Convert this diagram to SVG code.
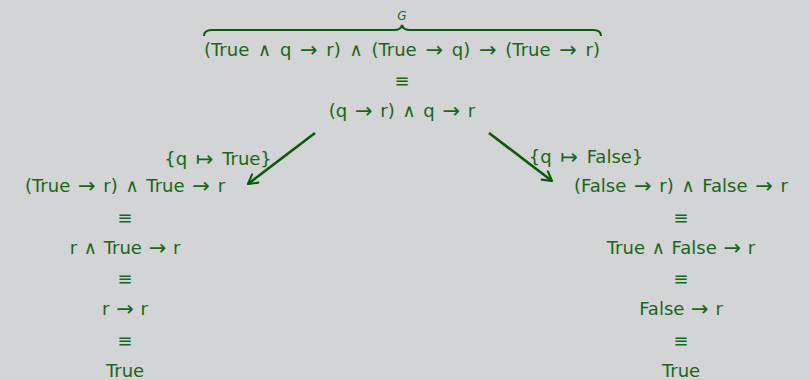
<svg xmlns="http://www.w3.org/2000/svg" width="810" height="380" viewBox="0 0 810 380">
<style>
text{font-family:"DejaVu Sans",sans-serif;font-size:18px;fill:#1a661a;text-anchor:middle}
.g{font-size:12px;font-style:italic}
.a{font-size:21px}
.conn{stroke:#0b5a0b;stroke-width:2.6;fill:none}
.brace{stroke:#0b5a0b;stroke-width:2;fill:none}
</style>
<defs>
<marker id="ah" viewBox="0 0 10 10" refX="8" refY="5" markerWidth="5" markerHeight="5" orient="auto" markerUnits="strokeWidth">
<path d="M1,1 L8,5 L1,9" fill="none" stroke="#0b5a0b" stroke-width="1.6" stroke-linecap="round" stroke-linejoin="round"/>
</marker>
</defs>
<rect width="810" height="380" fill="#d3d4d6"/>
<g id="root">
<text class="g" x="402" y="20">G</text>
<path class="brace" d="M204,36 Q204,30 212,30 L394,30 Q401,30 402,25 Q403,30 410,30 L593,30 Q601,30 601,36"/>
<text x="402" y="56">(True <tspan dx="3">∧</tspan><tspan dx="3"> q </tspan><tspan class="a" dx="3" dy="1">→</tspan><tspan dx="3" dy="-1"> r) </tspan><tspan dx="3">∧</tspan><tspan dx="3"> (True </tspan><tspan class="a" dx="3" dy="1">→</tspan><tspan dx="3" dy="-1"> q) </tspan><tspan class="a" dx="3" dy="1">→</tspan><tspan dx="3" dy="-1"> (True </tspan><tspan class="a" dx="3" dy="1">→</tspan><tspan dx="3" dy="-1"> r)</tspan></text>
<text x="402" y="87">≡</text>
<text x="402" y="117">(q <tspan class="a" dx="2" dy="1">→</tspan><tspan dx="2" dy="-1"> r) </tspan><tspan dx="2">∧</tspan><tspan dx="2"> q </tspan><tspan class="a" dx="2" dy="1">→</tspan><tspan dx="2" dy="-1"> r</tspan></text>
</g>
<g id="connectors">
<line class="conn" x1="315" y1="133" x2="248" y2="184" marker-end="url(#ah)"/>
<line class="conn" x1="489" y1="133" x2="552" y2="181" marker-end="url(#ah)"/>
<text x="218" y="165">{q <tspan class="a" dx="3" dy="1">↦</tspan><tspan dx="3" dy="-1"> True}</tspan></text>
<text x="586" y="163">{q <tspan class="a" dx="3" dy="1">↦</tspan><tspan dx="3" dy="-1"> False}</tspan></text>
</g>
<g id="left">
<text x="125" y="192">(True <tspan class="a" dx="2" dy="1">→</tspan><tspan dx="2" dy="-1"> r) </tspan><tspan dx="2">∧</tspan><tspan dx="2"> True </tspan><tspan class="a" dx="2" dy="1">→</tspan><tspan dx="2" dy="-1"> r</tspan></text>
<text x="125" y="224">≡</text>
<text x="125" y="254">r <tspan dx="1">∧</tspan><tspan dx="1"> True </tspan><tspan class="a" dx="1" dy="1">→</tspan><tspan dx="1" dy="-1"> r</tspan></text>
<text x="125" y="285">≡</text>
<text x="125" y="315">r <tspan class="a" dx="1" dy="1">→</tspan><tspan dx="1" dy="-1"> r</tspan></text>
<text x="125" y="347">≡</text>
<text x="125" y="377">True</text>
</g>
<g id="right">
<text x="681" y="192">(False <tspan class="a" dx="2" dy="1">→</tspan><tspan dx="2" dy="-1"> r) </tspan><tspan dx="2">∧</tspan><tspan dx="2"> False </tspan><tspan class="a" dx="2" dy="1">→</tspan><tspan dx="2" dy="-1"> r</tspan></text>
<text x="681" y="224">≡</text>
<text x="681" y="254">True <tspan dx="1">∧</tspan><tspan dx="1"> False </tspan><tspan class="a" dx="1" dy="1">→</tspan><tspan dx="1" dy="-1"> r</tspan></text>
<text x="681" y="285">≡</text>
<text x="681" y="315">False <tspan class="a" dx="1" dy="1">→</tspan><tspan dx="1" dy="-1"> r</tspan></text>
<text x="681" y="347">≡</text>
<text x="681" y="377">True</text>
</g>
</svg>
